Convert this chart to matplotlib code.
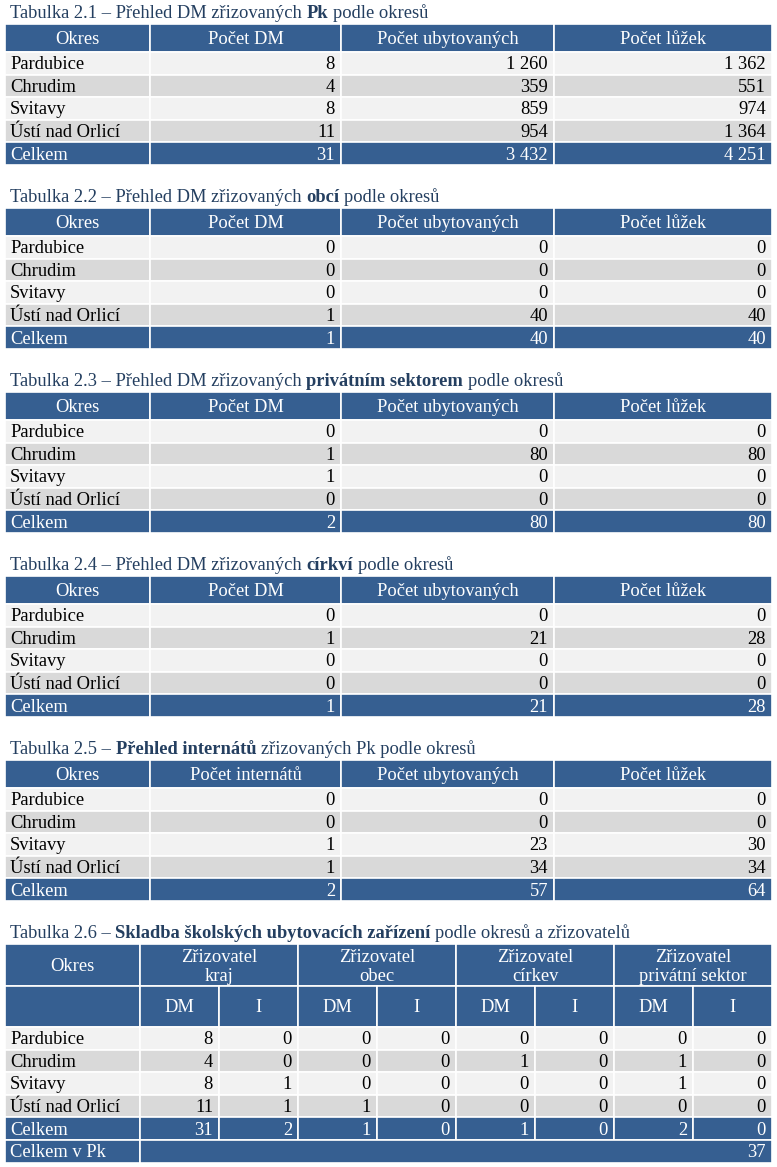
import matplotlib as mpl
mpl.use('agg')
import matplotlib.pyplot as plt
from matplotlib.patches import Rectangle

plt.rcParams['font.family'] = ['Liberation Serif', 'DejaVu Serif']

# ---- data ----
okresy = ["Pardubice", "Chrudim", "Svitavy", "Ústí nad Orlicí"]

hlavicka = ["Okres", "Počet DM", "Počet ubytovaných", "Počet lůžek"]
hlavicka_int = ["Okres", "Počet internátů", "Počet ubytovaných", "Počet lůžek"]

# Tabulka 2.1 - Pk
pk_dm = [8, 4, 8, 11]
pk_ubyt = [1260, 359, 859, 954]
pk_luzka = [1362, 551, 974, 1364]
# Tabulka 2.2 - obce
obec_dm = [0, 0, 0, 1]
obec_ubyt = [0, 0, 0, 40]
obec_luzka = [0, 0, 0, 40]
# Tabulka 2.3 - privatni sektor
priv_dm = [0, 1, 1, 0]
priv_ubyt = [0, 80, 0, 0]
priv_luzka = [0, 80, 0, 0]
# Tabulka 2.4 - cirkve
cirk_dm = [0, 1, 0, 0]
cirk_ubyt = [0, 21, 0, 0]
cirk_luzka = [0, 28, 0, 0]
# Tabulka 2.5 - internaty Pk
int_pocet = [0, 0, 1, 1]
int_ubyt = [0, 0, 23, 34]
int_luzka = [0, 0, 30, 34]
# Tabulka 2.6 - skladba podle zrizovatelu (DM, I)
zrizovatele = ["Zřizovatel\nkraj", "Zřizovatel\nobec", "Zřizovatel\ncírkev", "Zřizovatel\nprivátní sektor"]
kraj_dm = [8, 4, 8, 11]
kraj_i = [0, 0, 1, 1]
obec6_dm = [0, 0, 0, 1]
obec6_i = [0, 0, 0, 0]
cirk6_dm = [0, 1, 0, 0]
cirk6_i = [0, 0, 0, 0]
priv6_dm = [0, 1, 1, 0]
priv6_i = [0, 0, 0, 0]

TITLES = [
    [("Tabulka 2.1 – Přehled DM zřizovaných", False), ("Pk", True), ("podle okresů", False)],
    [("Tabulka 2.2 – Přehled DM zřizovaných", False), ("obcí", True), ("podle okresů", False)],
    [("Tabulka 2.3 – Přehled DM zřizovaných", False), ("privátním sektorem", True), ("podle okresů", False)],
    [("Tabulka 2.4 – Přehled DM zřizovaných", False), ("církví", True), ("podle okresů", False)],
    [("Tabulka 2.5 –", False), ("Přehled internátů", True), ("zřizovaných Pk podle okresů", False)],
    [("Tabulka 2.6 –", False), ("Skladba školských ubytovacích zařízení", True), ("podle okresů a zřizovatelů", False)],
]

# ---- style ----
HEAD = '#365F91'
TITLE_C = '#243F60'
LIGHT = '#F2F2F2'
DARK = '#D9D9D9'
FS = 13.3

W, H = 777, 1167
fig = plt.figure(figsize=(W / 100, H / 100), dpi=100)
ax = fig.add_axes([0, 0, 1, 1])
ax.set_xlim(0, W)
ax.set_ylim(H, 0)
ax.axis('off')
renderer = fig.canvas.get_renderer()


def fmt(n):
    return f"{n:,}".replace(",", " ")


def width(s, bold=False):
    t = ax.text(0, 0, s, fontsize=FS, fontweight='bold' if bold else 'normal')
    w = t.get_window_extent(renderer).width
    t.remove()
    return w


SPACE = width("x x") - width("xx")


def title(segs, y):
    x = 10
    for s, b in segs:
        ax.text(x, y, s, fontsize=FS, color=TITLE_C, va='baseline', ha='left',
                fontweight='bold' if b else 'normal')
        x += width(s, b) + SPACE


def cell(x0, x1, y0, y1, fc, txt='', ha='right', color='black'):
    ax.add_patch(Rectangle((x0, y0), x1 - x0, y1 - y0, fc=fc, ec='white', lw=1.2))
    if txt == '':
        return
    yb = (y0 + y1) / 2 + 6
    if ha == 'right':
        tx = x1 - 6
    elif ha == 'left':
        tx = x0 + 5
    else:
        tx = (x0 + x1) / 2
    ax.text(tx, yb, txt, fontsize=FS, color=color, ha=ha, va='baseline')


# ---- tables 2.1 - 2.5 ----
cols = [5, 150, 341, 554, 772]
tables = [
    (hlavicka, [pk_dm, pk_ubyt, pk_luzka]),
    (hlavicka, [obec_dm, obec_ubyt, obec_luzka]),
    (hlavicka, [priv_dm, priv_ubyt, priv_luzka]),
    (hlavicka, [cirk_dm, cirk_ubyt, cirk_luzka]),
    (hlavicka_int, [int_pocet, int_ubyt, int_luzka]),
]
ROW = 22.6
for k, (head, series) in enumerate(tables):
    top = 24 + k * 184
    title(TITLES[k], top - 6)
    for j, lab in enumerate(head):
        cell(cols[j], cols[j + 1], top, top + 28, HEAD, lab, ha='center', color='white')
    y = top + 28
    for i, name in enumerate(okresy):
        fc = LIGHT if i % 2 == 0 else DARK
        cell(cols[0], cols[1], y, y + ROW, fc, name, ha='left')
        for j, s in enumerate(series):
            cell(cols[j + 1], cols[j + 2], y, y + ROW, fc, fmt(s[i]))
        y += ROW
    cell(cols[0], cols[1], y, y + ROW, HEAD, "Celkem", ha='left', color='white')
    for j, s in enumerate(series):
        cell(cols[j + 1], cols[j + 2], y, y + ROW, HEAD, fmt(sum(s)), color='white')

# ---- table 2.6 ----
top = 944
title(TITLES[5], top - 6)
c6 = [5, 140, 219, 298, 377, 456, 535, 614, 693, 772]
series6 = [kraj_dm, kraj_i, obec6_dm, obec6_i, cirk6_dm, cirk6_i, priv6_dm, priv6_i]
h1, h2 = 986, 1027
cell(c6[0], c6[1], top, h1, HEAD, "Okres", ha='center', color='white')
cell(c6[0], c6[1], h1, h2, HEAD)
for g, lab in enumerate(zrizovatele):
    x0, x1 = c6[1 + 2 * g], c6[3 + 2 * g]
    ax.add_patch(Rectangle((x0, top), x1 - x0, h1 - top, fc=HEAD, ec='white', lw=1.2))
    l1, l2 = lab.split("\n")
    ax.text((x0 + x1) / 2, 962, l1, fontsize=FS, color='white', ha='center', va='baseline')
    ax.text((x0 + x1) / 2, 981, l2, fontsize=FS, color='white', ha='center', va='baseline')
    cell(x0, c6[2 + 2 * g], h1, h2, HEAD, "DM", ha='center', color='white')
    cell(c6[2 + 2 * g], x1, h1, h2, HEAD, "I", ha='center', color='white')
y = h2
for i, name in enumerate(okresy):
    fc = LIGHT if i % 2 == 0 else DARK
    cell(c6[0], c6[1], y, y + ROW, fc, name, ha='left')
    for j, s in enumerate(series6):
        cell(c6[j + 1], c6[j + 2], y, y + ROW, fc, fmt(s[i]))
    y += ROW
cell(c6[0], c6[1], y, y + ROW, HEAD, "Celkem", ha='left', color='white')
for j, s in enumerate(series6):
    cell(c6[j + 1], c6[j + 2], y, y + ROW, HEAD, fmt(sum(s)), color='white')
y += ROW
cell(c6[0], c6[1], y, y + ROW, HEAD, "Celkem v Pk", ha='left', color='white')
cell(c6[1], c6[-1], y, y + ROW, HEAD, fmt(sum(sum(s) for s in series6)), color='white')

fig.savefig('out.png', dpi=100)
